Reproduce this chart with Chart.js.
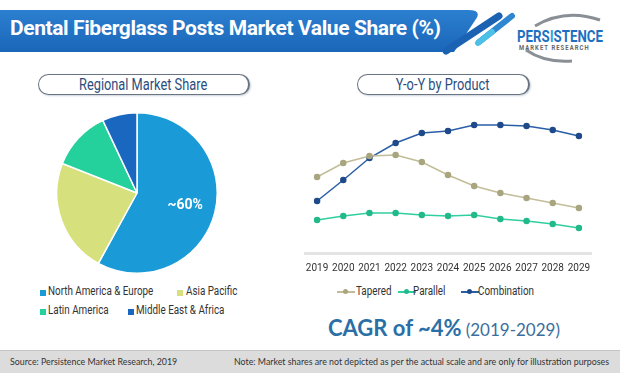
<!DOCTYPE html>
<html>
<head>
<meta charset="utf-8">
<script src="https://cdn.jsdelivr.net/npm/chart.js@4.4.1/dist/chart.umd.min.js"></script>
<style>
  body { margin: 0; width: 620px; height: 373px; background: #fff; position: relative; overflow: hidden;
         font-family: "Roboto", sans-serif; }
  .abs { position: absolute; }
  .nar { display: inline-block; transform: scaleX(0.82); transform-origin: 0 50%; white-space: nowrap; }
  .title { left: 10px; top: 16px; color: #fff; font-weight: bold; font-size: 21px; white-space: nowrap; letter-spacing: -0.4px; }
  .pill { height: 19px; border: 1.5px solid #6a7480; border-right-width: 2.5px; border-radius: 11px; background: #fff;
          color: #2b4d7e; font-size: 16px; text-align: center; line-height: 19px; box-shadow: 1px 1px 2px #c9d3dd; }
  .pill span { display: inline-block; transform: scaleX(0.8); white-space: nowrap; }
  .leg { font-size: 12px; color: #333; white-space: nowrap; }
  .sq { position: absolute; width: 6px; height: 6px; }
  .lm { position: absolute; width: 18px; height: 10px; }
  .lm i { position: absolute; left: 0; right: 0; top: 4px; height: 1.5px; }
  .lm b { position: absolute; left: 6px; top: 2px; width: 5px; height: 5px; border-radius: 50%; }
  .cagr { left: 328px; top: 314px; font-family: "Lato", "Open Sans", sans-serif; color: #2a6fa6; white-space: nowrap; }
  .footer { left: 0; top: 350px; width: 620px; height: 23px; background: #dcdcdc; border-top: 1px solid #c4c4c4;
            font-family: "Lato", "Open Sans", sans-serif; font-size: 9.5px; color: #333; }
  .footer span { transform: scaleX(0.93); transform-origin: 0 50%; white-space: nowrap; }
</style>
</head>
<body>
<svg class="abs" style="left:0;top:0" width="620" height="66">
  <defs>
    <linearGradient id="bg" x1="0" y1="0" x2="0" y2="1">
      <stop offset="0" stop-color="#2c7fd0"/>
      <stop offset="1" stop-color="#1a66b8"/>
    </linearGradient>
  </defs>
  <path d="M0,10 H468 Q482,10 476,19 L454,52 H0 Z" fill="url(#bg)"/>
  <line x1="446" y1="51" x2="499" y2="16" stroke="#1c62b3" stroke-width="7" stroke-linecap="round"/>
  <line x1="479" y1="42" x2="512" y2="16" stroke="#2f86d0" stroke-width="6" stroke-linecap="round"/>
  <line x1="478" y1="43" x2="492" y2="32" stroke="#4cc0e6" stroke-width="6" stroke-linecap="round"/>
  <path d="M535,26 Q565,8 600,20" fill="none" stroke="#8a8f96" stroke-width="3"/>
  <path d="M526,50 Q545,63 572,61" fill="none" stroke="#8a8f96" stroke-width="3"/>
</svg>
<div class="abs title">Dental Fiberglass Posts Market Value Share (%)</div>
<div class="abs nar" style="left:517px;top:26px;color:#1f6fc1;font-weight:bold;font-size:17px;transform:scaleX(0.78)">PERS<span style="color:#2aa6dc">I</span>STENCE</div>
<div class="abs nar" style="left:519px;top:44px;color:#666;font-size:6.5px;font-weight:bold;letter-spacing:1.2px;transform:scaleX(0.9)">MARKET RESEARCH</div>

<div class="abs pill" style="left:38px;top:74px;width:209px"><span>Regional Market Share</span></div>
<div class="abs pill" style="left:357px;top:74px;width:170px"><span>Y-o-Y by Product</span></div>

<div class="abs" style="left:56px;top:112px;width:162px;height:162px"><canvas id="pie"></canvas></div>
<div class="abs" style="left:304px;top:93px;width:288px;height:182px"><canvas id="line"></canvas></div>

<div class="abs sq" style="left:40px;top:290px;background:#1a9ad6"></div>
<div class="abs leg nar" style="left:48px;top:284px">North America &amp; Europe</div>
<div class="abs sq" style="left:177px;top:290px;background:#d6e07c"></div>
<div class="abs leg nar" style="left:186px;top:284px">Asia Pacific</div>
<div class="abs sq" style="left:40px;top:309px;background:#24d09b"></div>
<div class="abs leg nar" style="left:48px;top:303px">Latin America</div>
<div class="abs sq" style="left:128px;top:309px;background:#1a67c0"></div>
<div class="abs leg nar" style="left:136px;top:303px">Middle East &amp; Africa</div>

<div class="abs lm" style="left:337px;top:287px"><i style="background:#c2bd98"></i><b style="background:#a9a57f"></b></div>
<div class="abs leg nar" style="left:356px;top:284px">Tapered</div>
<div class="abs lm" style="left:398px;top:287px"><i style="background:#30cf9f"></i><b style="background:#22b98b"></b></div>
<div class="abs leg nar" style="left:413px;top:284px">Parallel</div>
<div class="abs lm" style="left:461px;top:287px"><i style="background:#2a5ea6"></i><b style="background:#1f4a8a"></b></div>
<div class="abs leg nar" style="left:478px;top:284px">Combination</div>

<div class="abs cagr"><span style="font-size:22px;font-weight:bold">CAGR of ~4%</span> <span style="font-size:17px;color:#3b6e9c">(2019-2029)</span></div>

<div class="abs footer">
  <span class="abs" style="left:10px;top:5px">Source: Persistence Market Research, 2019</span>
  <span class="abs" style="left:234px;top:5px">Note: Market shares are not depicted as per the actual scale and are only for illustration purposes</span>
</div>

<script>
const regions = ['North America & Europe', 'Asia Pacific', 'Latin America', 'Middle East & Africa'];
const regionShare = [58, 23, 12, 7];
const regionColors = ['#1a9ad6', '#d6e07c', '#24d09b', '#1a67c0'];

const years = ['2019', '2020', '2021', '2022', '2023', '2024', '2025', '2026', '2027', '2028', '2029'];
const tapered = [76, 90, 97, 98, 91, 78, 67, 60, 55, 50, 45];
const parallel = [33, 37, 40, 40, 38, 37, 38, 34, 32, 29, 25];
const combination = [52, 73, 95, 110, 120, 122, 128, 128, 127, 123, 117];

const fontName = '"Roboto", sans-serif';

// label "~60%" sur la grosse part
const pieLabel = {
  id: 'pieLabel',
  afterDatasetsDraw(chart) {
    const arc = chart.getDatasetMeta(0).data[0];
    const mid = (arc.startAngle + arc.endAngle) / 2;
    const r = arc.outerRadius * 0.62;
    const ctx = chart.ctx;
    ctx.save();
    ctx.fillStyle = '#fff';
    ctx.font = 'bold 14px ' + fontName;
    ctx.textAlign = 'center';
    ctx.textBaseline = 'middle';
    ctx.fillText('~60%', arc.x + Math.cos(mid) * r, arc.y + Math.sin(mid) * r);
    ctx.restore();
  }
};

new Chart(document.getElementById('pie'), {
  type: 'pie',
  data: {
    labels: regions,
    datasets: [{
      data: regionShare,
      backgroundColor: regionColors,
      borderColor: '#ffffff',
      borderWidth: 1.5
    }]
  },
  options: {
    responsive: true,
    maintainAspectRatio: false,
    animation: false,
    plugins: { legend: { display: false }, tooltip: { enabled: false } }
  },
  plugins: [pieLabel]
});

function serie(label, values, lineColor, pointColor) {
  return {
    label: label,
    data: values,
    borderColor: lineColor,
    backgroundColor: pointColor,
    pointBackgroundColor: pointColor,
    pointBorderColor: pointColor,
    pointRadius: 2.5,
    borderWidth: 1.5,
    tension: 0,
    clip: false
  };
}

new Chart(document.getElementById('line'), {
  type: 'line',
  data: {
    labels: years,
    datasets: [
      serie('Tapered', tapered, '#c2bd98', '#a9a57f'),
      serie('Parallel', parallel, '#30cf9f', '#22b98b'),
      serie('Combination', combination, '#2a5ea6', '#1f4a8a')
    ]
  },
  options: {
    responsive: true,
    maintainAspectRatio: false,
    animation: false,
    layout: { padding: { top: 10 }, autoPadding: false },
    plugins: { legend: { display: false }, tooltip: { enabled: false } },
    scales: {
      x: {
        offset: true,
        grid: { display: false },
        border: { color: '#e4e4e4', width: 3 },
        ticks: { color: '#333', font: { family: fontName, size: 10 }, padding: 1, maxRotation: 0, autoSkip: false },
        afterFit(axis) { axis.height = 22; }
      },
      y: { display: false, min: 0, max: 150 }
    }
  }
});
</script>
</body>
</html>
